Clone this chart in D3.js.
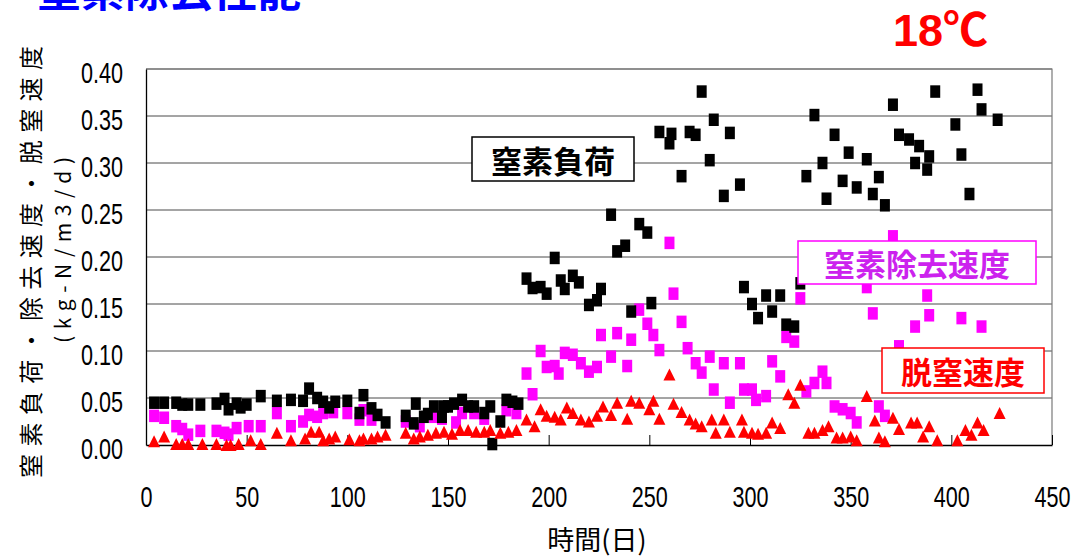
<!DOCTYPE html>
<html lang="ja">
<head>
<meta charset="UTF-8">
<title>窒素除去性能</title>
<script src="https://d3js.org/d3.v7.min.js"></script>
<style>
    body { margin: 0; background: #fff; }
    svg { display: block; }
    .num { font-family: "Liberation Sans", Arial, sans-serif; font-size: 30px; fill: #000; }
    .jp { font-family: "Noto Sans CJK JP", "Noto Sans CJK SC", sans-serif; }
</style>
</head>
<body>
<svg id="chart" width="1073" height="559"></svg>
<script>
// [day, kg-N/m3/d]
var loadPoints = [
    [4,0.045],[9,0.045],[15,0.045],[18,0.043],[21,0.043],[27,0.043],[35,0.044],[39,0.049],[41,0.038],
    [45,0.044],[47,0.040],[50,0.043],[57,0.052],[65,0.047],[72,0.048],[78,0.047],[81,0.060],[85,0.050],
    [88,0.046],[91,0.040],[94,0.046],[100,0.047],[106,0.034],[108,0.053],[112,0.039],[115,0.032],
    [119,0.024],[129,0.031],[133,0.023],[134,0.044],[138,0.030],[140,0.033],[143,0.041],[147,0.030],
    [148,0.041],[150,0.041],[153,0.044],[157,0.048],[160,0.041],[163,0.041],[168,0.034],[171,0.041],
    [172,0.001],[176,0.025],[179,0.048],[182,0.046],[185,0.044],
    [189,0.177],[192,0.167],[196,0.168],[199,0.161],[203,0.199],[206,0.175],[208,0.166],[212,0.180],
    [215,0.173],[220,0.149],[224,0.154],[226,0.166],[231,0.245],[234,0.206],[238,0.212],[241,0.142],
    [245,0.235],[249,0.226],[251,0.151],[255,0.333],[260,0.321],[261,0.331],[266,0.286],[270,0.333],
    [273,0.330],[276,0.376],[280,0.303],[282,0.346],[287,0.265],[290,0.332],[295,0.277],[297,0.168],
    [301,0.150],[304,0.135],[308,0.159],[311,0.142],[315,0.159],[318,0.128],[322,0.126],[325,0.172],
    [328,0.286],[332,0.351],[336,0.300],[338,0.262],[342,0.330],[346,0.281],[349,0.311],[353,0.274],
    [358,0.304],[361,0.267],[364,0.285],[367,0.255],[371,0.362],[374,0.330],[379,0.325],[382,0.300],
    [384,0.318],[388,0.293],[389,0.307],[392,0.376],[402,0.341],[405,0.309],[409,0.267],[413,0.378],
    [415,0.357],[423,0.346]
];
var removalPoints = [
    [4,0.031],[9,0.029],[15,0.020],[18,0.017],[21,0.011],[27,0.015],[35,0.015],[39,0.013],[41,0.011],
    [45,0.018],[51,0.020],[57,0.020],[65,0.034],[72,0.020],[78,0.025],[81,0.032],[85,0.030],[88,0.034],
    [93,0.035],[100,0.034],[106,0.027],[108,0.037],[112,0.027],[129,0.025],[136,0.020],[143,0.030],
    [147,0.028],[154,0.024],[157,0.034],[163,0.034],[168,0.028],[179,0.037],[184,0.034],
    [189,0.076],[192,0.054],[196,0.100],[199,0.083],[203,0.084],[205,0.076],[208,0.098],[212,0.096],
    [216,0.087],[220,0.078],[224,0.083],[226,0.117],[231,0.094],[234,0.119],[239,0.084],[241,0.112],
    [245,0.144],[249,0.129],[252,0.117],[255,0.101],[260,0.215],[262,0.161],[266,0.131],[269,0.103],
    [273,0.087],[276,0.077],[280,0.094],[282,0.059],[287,0.087],[290,0.045],[295,0.087],[297,0.059],
    [301,0.059],[303,0.048],[308,0.052],[311,0.089],[315,0.073],[318,0.115],[322,0.110],[325,0.156],
    [328,0.057],[332,0.066],[336,0.078],[338,0.066],[342,0.041],[346,0.038],[350,0.034],[353,0.024],
    [358,0.168],[361,0.140],[364,0.041],[367,0.031],[371,0.222],[374,0.105],[382,0.126],[388,0.159],
    [389,0.138],[405,0.135],[415,0.126]
];
var denitPoints = [
    [4,0.004],[9,0.009],[15,0.001],[18,0.001],[21,0.001],[28,0.001],[35,0.001],[40,0.000],[42,0.000],
    [46,0.001],[52,0.005],[57,0.001],[65,0.013],[72,0.005],[79,0.007],[82,0.014],[86,0.014],[88,0.005],
    [91,0.007],[94,0.009],[101,0.006],[106,0.005],[108,0.007],[112,0.007],[115,0.009],[119,0.011],
    [129,0.013],[133,0.007],[136,0.009],[140,0.011],[144,0.013],[148,0.014],[152,0.012],[156,0.016],
    [160,0.016],[164,0.014],[168,0.014],[171,0.016],[176,0.013],[180,0.014],[184,0.016],
    [189,0.027],[193,0.020],[196,0.038],[199,0.031],[203,0.030],[206,0.027],[209,0.040],[212,0.034],
    [216,0.027],[220,0.025],[224,0.031],[227,0.041],[231,0.032],[234,0.045],[239,0.028],[241,0.047],
    [245,0.045],[250,0.038],[252,0.047],[255,0.028],[260,0.075],[262,0.044],[266,0.035],[270,0.027],
    [273,0.023],[276,0.020],[281,0.027],[283,0.013],[287,0.027],[290,0.014],[296,0.027],[297,0.014],
    [301,0.013],[304,0.012],[308,0.013],[311,0.024],[315,0.018],[319,0.054],[322,0.045],[325,0.064],
    [329,0.013],[332,0.013],[336,0.016],[339,0.020],[343,0.008],[346,0.008],[350,0.009],[353,0.005],
    [358,0.052],[362,0.026],[364,0.008],[367,0.004],[371,0.029],[374,0.017],[380,0.024],[383,0.024],
    [386,0.009],[389,0.020],[393,0.005],[403,0.005],[407,0.016],[410,0.011],[413,0.024],[416,0.016],
    [424,0.034]
];
var yTicks = [0, 0.05, 0.10, 0.15, 0.20, 0.25, 0.30, 0.35, 0.40];
var xTicks = [0, 50, 100, 150, 200, 250, 300, 350, 400, 450];

var configuration = {
    "left": 146, "right": 1052, "top": 69, "bottom": 445,
    "square_w": 10, "square_h": 12.5,
    "tri_w": 12, "tri_h": 12,
    "narrow": 0.72
};

var svg = d3.select("#chart");
var c = configuration;

var x = d3.scaleLinear().domain([0, 450]).range([c.left, c.right]);
var y = d3.scaleLinear().domain([0, 0.4]).range([c.bottom, c.top]);

// title, cut off at top
svg.append("text").attr("class", "jp")
    .attr("x", 37).attr("y", 7)
    .attr("font-size", 44).attr("font-weight", 700).attr("fill", "#0000ff")
    .text("窒素除去性能");

svg.append("text")
    .attr("x", 893).attr("y", 46)
    .attr("font-family", "'Liberation Sans', Arial, 'Noto Sans CJK JP', sans-serif")
    .attr("font-size", 45).attr("font-weight", 700).attr("fill", "#ff0000")
    .text("18℃");

// gridlines
svg.append("g").selectAll("line")
    .data(yTicks.filter(function(d){ return d > 0; }))
    .join("line")
    .attr("x1", c.left).attr("x2", c.right)
    .attr("y1", function(d){ return y(d); }).attr("y2", function(d){ return y(d); })
    .attr("stroke", "#4a4a4a").attr("stroke-width", 1);

svg.append("path")
    .attr("d", "M" + c.left + "," + c.top + "H" + c.right + "V" + c.bottom)
    .attr("fill", "none").attr("stroke", "#7a7a7a").attr("stroke-width", 1.2);

// axes
var yAxis = svg.append("g")
    .attr("transform", "translate(" + c.left + ",0)")
    .call(d3.axisLeft(y).tickValues(yTicks).tickFormat(d3.format(".2f")).tickSize(0).tickPadding(23));

var xAxis = svg.append("g")
    .attr("transform", "translate(0," + c.bottom + ")")
    .call(d3.axisBottom(x).tickValues(xTicks).tickSizeInner(-10).tickSizeOuter(0));

[yAxis, xAxis].forEach(function(g){
    g.attr("font-size", null).attr("font-family", null);
    g.select(".domain").attr("stroke", "#000").attr("stroke-width", 1.3);
    g.selectAll(".tick line").attr("stroke", "#000");
    g.selectAll("text").attr("class", "num");
});
yAxis.selectAll("text").attr("dy", "0.45em");
xAxis.selectAll("text").attr("y", 62).attr("dy", null);

// squeeze the digits like the narrow font of the original
svg.selectAll("text.num").each(function(){
    var w = this.getComputedTextLength();
    d3.select(this).attr("textLength", w * c.narrow).attr("lengthAdjust", "spacingAndGlyphs");
});

// axis titles
svg.append("text").attr("class", "jp")
    .attr("transform", "translate(29,262) rotate(-90)")
    .attr("text-anchor", "middle").attr("dominant-baseline", "central")
    .attr("font-size", 24)
    .attr("textLength", 432).attr("lengthAdjust", "spacing")
    .text("窒素負荷・除去速度・脱窒速度");

svg.append("text").attr("class", "jp")
    .attr("transform", "translate(62,250) rotate(-90)")
    .attr("text-anchor", "middle").attr("dominant-baseline", "central")
    .attr("font-size", 21)
    .attr("textLength", 186).attr("lengthAdjust", "spacing")
    .text("(kg-N/m3/d)");

svg.append("text").attr("class", "jp")
    .attr("x", 597).attr("y", 550)
    .attr("text-anchor", "middle")
    .attr("font-size", 27)
    .text("時間(日)");

// markers
var square = "M" + (-c.square_w / 2) + "," + (-c.square_h / 2) + "h" + c.square_w + "v" + c.square_h + "h" + (-c.square_w) + "Z";
var triangle = "M0," + (-c.tri_h / 2) + "L" + (c.tri_w / 2) + "," + (c.tri_h / 2) + "H" + (-c.tri_w / 2) + "Z";
var pos = function(d){ return "translate(" + x(d[0]) + "," + y(d[1]) + ")"; };

svg.append("g").selectAll("path").data(removalPoints).join("path")
    .attr("d", square).attr("transform", pos).attr("fill", "#ff00ff");

svg.append("g").selectAll("path").data(loadPoints).join("path")
    .attr("d", square).attr("transform", pos).attr("fill", "#000");

svg.append("g").selectAll("path").data(denitPoints).join("path")
    .attr("d", triangle).attr("transform", pos).attr("fill", "#ff0000");

// series labels
var labels = [
    { text: "窒素負荷", x: 472, y: 137, w: 162, h: 44, stroke: "#000", fill: "#000" },
    { text: "窒素除去速度", x: 798, y: 241, w: 238, h: 43, stroke: "#ff00ff", fill: "#cc22ee" },
    { text: "脱窒速度", x: 882, y: 348, w: 162, h: 45, stroke: "#ff0000", fill: "#ff0000" }
];
labels.forEach(function(l){
    var g = svg.append("g");
    g.append("rect")
        .attr("x", l.x).attr("y", l.y).attr("width", l.w).attr("height", l.h)
        .attr("fill", "#fff").attr("stroke", l.stroke).attr("stroke-width", 1.5);
    g.append("text").attr("class", "jp")
        .attr("x", l.x + l.w / 2).attr("y", l.y + l.h / 2)
        .attr("text-anchor", "middle").attr("dominant-baseline", "central")
        .attr("font-size", 31).attr("font-weight", 700).attr("fill", l.fill)
        .text(l.text);
});
</script>
</body>
</html>
